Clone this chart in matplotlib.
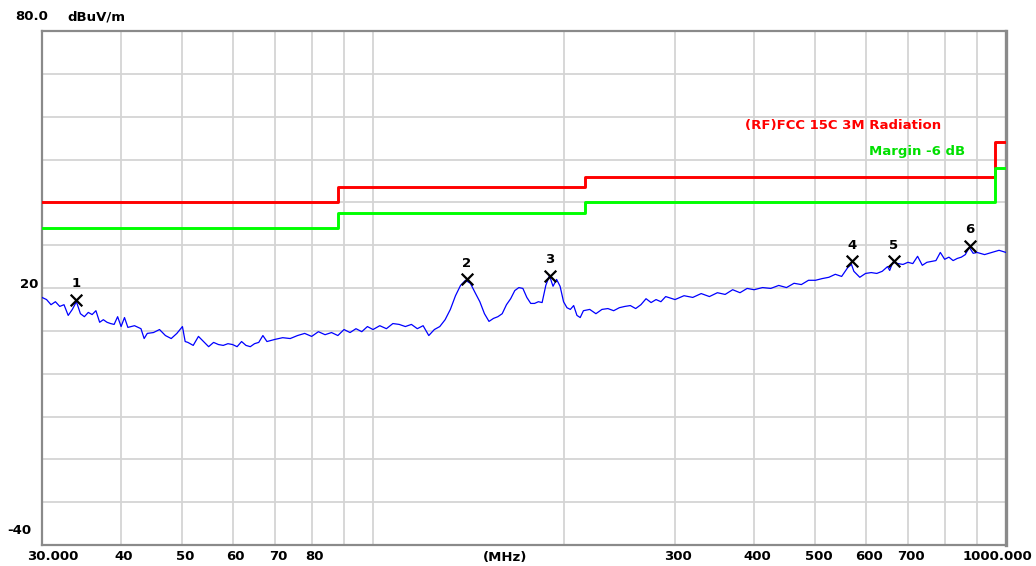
import matplotlib
matplotlib.use("Agg")
import matplotlib.pyplot as plt
from matplotlib.transforms import blended_transform_factory

# ---------------- data ----------------
freq_mhz = [30, 30.5, 31, 31.5, 32, 32.5, 33, 33.5, 34, 34.5, 35, 35.5, 36, 36.5, 37, 37.5,
            38, 38.5, 39, 39.5, 40, 40.5, 41, 42, 43, 43.5, 44, 45, 46, 47, 48, 49, 50, 50.5,
            51, 52, 53, 54, 55, 56, 57, 58, 59, 60, 61, 62, 63, 64, 65, 66, 67, 68, 70, 72,
            74, 76, 78, 80, 82, 84, 86, 88, 90, 92, 94, 96, 98, 100, 102.5, 105, 107.5, 110,
            112.5, 115, 117.5, 120, 122.5, 125, 127.5, 130, 132.5, 135, 137.5, 140, 142.5,
            145, 147.5, 150, 152.5, 155, 157.5, 160, 162.5, 165, 167.5, 170, 172.5, 175,
            177.5, 180, 182.5, 185, 187.5, 190, 192.5, 195, 197.5, 200, 202.5, 205, 207.5,
            210, 212.5, 215, 220, 225, 230, 235, 240, 245, 250, 255, 260, 265, 270, 275, 280,
            285, 290, 300, 310, 320, 330, 340, 350, 360, 370, 380, 390, 400, 412.5, 425,
            437.5, 450, 462.5, 475, 487.5, 500, 512.5, 525, 537.5, 550, 562.5, 570, 575,
            587.5, 600, 612.5, 625, 637.5, 650, 655, 662.5, 675, 687.5, 700, 712.5, 725,
            737.5, 750, 762.5, 775, 787.5, 800, 812.5, 825, 837.5, 850, 862.5, 875, 887.5,
            900, 925, 950, 975, 1000]
level_dbuv = [17.8, 17.3, 16.1, 16.8, 15.7, 16.1, 13.6, 15.0, 16.8, 14.0, 13.3, 14.3, 13.8, 14.7,
              12.0, 12.6, 12.0, 11.7, 11.5, 13.3, 11.0, 13.1, 10.8, 11.2, 10.5, 8.2, 9.4, 9.6,
              10.3, 8.9, 8.2, 9.4, 11.0, 7.5, 7.3, 6.6, 8.7, 7.5, 6.3, 7.3, 6.8, 6.6, 7.0, 6.8,
              6.3, 7.5, 6.6, 6.3, 7.0, 7.3, 8.9, 7.5, 8.0, 8.4, 8.2, 8.9, 9.4, 8.7, 9.8, 9.1,
              9.6, 8.9, 10.3, 9.6, 10.5, 9.8, 11.0, 10.3, 11.2, 10.5, 11.7, 11.5, 11.0, 11.5,
              10.5, 11.2, 8.9, 10.3, 11.0, 12.6, 15.0, 18.2, 20.6, 21.8, 21.1, 18.9, 16.8,
              14.0, 12.2, 12.9, 13.3, 14.0, 16.1, 17.5, 19.4, 20.1, 19.9, 17.8, 16.4, 16.4,
              16.8, 16.6, 20.6, 22.9, 20.4, 22.0, 20.4, 16.8, 15.4, 15.0, 15.9, 13.6, 13.1,
              14.7, 15.0, 14.0, 15.0, 15.2, 14.7, 15.4, 15.7, 15.9, 15.2, 16.1, 17.5, 16.6,
              17.3, 16.8, 18.0, 17.3, 18.2, 17.8, 18.7, 18.0, 18.9, 18.5, 19.6, 18.9, 19.9,
              19.6, 20.1, 19.9, 20.6, 20.1, 21.1, 20.8, 21.8, 21.8, 22.2, 22.5, 23.2, 22.7,
              24.8, 25.5, 23.9, 22.5, 23.4, 23.6, 23.4, 23.9, 25.0, 24.1, 26.0, 25.7, 25.5,
              26.0, 25.7, 27.4, 25.3, 26.0, 26.2, 26.4, 28.3, 26.7, 27.2, 26.4, 26.9, 27.2,
              27.8, 29.5, 28.1, 28.3, 27.8, 28.3, 28.8, 28.3]

limit_freq = [30, 88, 216, 960, 1000]
limit_level = [40, 43.5, 46, 54, 54]
margin_db = -6

marker_ids = ["1", "2", "3", "4", "5", "6"]
marker_freq = [34.0, 140.8, 190.4, 571, 665, 877]
marker_level = [17.3, 22.0, 22.9, 26.2, 26.2, 29.9]

x_tick_vals = [30, 40, 50, 60, 70, 80, 300, 400, 500, 600, 700, 1000]
x_tick_labels = ["30.000", "40", "50", "60", "70", "80", "300", "400", "500", "600", "700", "1000.000"]
x_grid_vals = [40, 50, 60, 70, 80, 90, 100, 200, 300, 400, 500, 600, 700, 800, 900]
y_min, y_max, y_step = -40, 80, 10

# ---------------- figure ----------------
W, H = 1036, 566
FS = 9.5
fig = plt.figure(figsize=(W / 100, H / 100), dpi=100)
fig.patch.set_facecolor("white")
ax = fig.add_axes([42 / W, 21 / H, 964 / W, 514 / H])
ax.set_xscale("log")
ax.set_xlim(30, 1000)
ax.set_ylim(y_min, y_max)

for xv in x_grid_vals:
    ax.axvline(xv, color="#d4d4d4", lw=1.3, zorder=1)
for yv in range(y_min + y_step, y_max, y_step):
    ax.axhline(yv, color="#d4d4d4", lw=1.3, zorder=1)

ax.set_xticks([])
ax.set_yticks([])
ax.minorticks_off()
ax.tick_params(which="both", length=0, labelbottom=False, labelleft=False)
for s in ax.spines.values():
    s.set_color("#8a8a8a")
    s.set_linewidth(1.6)
ax.spines["right"].set_linewidth(2.4)

# limit lines
ax.plot(limit_freq, limit_level, drawstyle="steps-post", color="#ff0000", lw=2.1, zorder=3)
ax.plot(limit_freq, [v + margin_db for v in limit_level], drawstyle="steps-post",
        color="#00ff00", lw=2.1, zorder=3)

# trace
ax.plot(freq_mhz, level_dbuv, color="#0000ff", lw=0.9, zorder=4)

# markers
ax.scatter(marker_freq, marker_level, marker="x", s=70, color="black", linewidths=1.6, zorder=5)
for mid, mf, ml in zip(marker_ids, marker_freq, marker_level):
    ax.annotate(mid, (mf, ml), xytext=(0, 16), textcoords="offset pixels",
                ha="center", va="center", fontsize=FS, fontweight="bold", color="black", zorder=6)

# legend texts
fig.text(745 / W, 1 - 125 / H, "(RF)FCC 15C 3M Radiation", color="#ff0000", fontsize=FS,
         fontweight="bold", ha="left", va="center")
fig.text(869 / W, 1 - 151 / H, "Margin -6 dB", color="#00e000", fontsize=FS,
         fontweight="bold", ha="left", va="center")

# axis texts
fig.text(15 / W, 1 - 17 / H, "80.0", fontsize=FS, fontweight="bold", ha="left", va="center")
fig.text(67 / W, 1 - 17 / H, "dBuV/m", fontsize=FS, fontweight="bold", ha="left", va="center")
fig.text(38 / W, 1 - 284 / H, "20", fontsize=FS, fontweight="bold", ha="right", va="center")
fig.text(31 / W, 1 - 530 / H, "-40", fontsize=FS, fontweight="bold", ha="right", va="center")

trans = blended_transform_factory(ax.transData, fig.transFigure)
yl = 1 - 557 / H
for xv, lab in zip(x_tick_vals, x_tick_labels):
    dx = 3
    if lab == "30.000":
        dx = 11
    elif lab == "1000.000":
        dx = -9
    ax.annotate(lab, (xv, yl), xycoords=trans, xytext=(dx, 0), textcoords="offset pixels",
                ha="center", va="center", fontsize=FS, fontweight="bold", annotation_clip=False)
fig.text(505 / W, yl, "(MHz)", fontsize=FS, fontweight="bold", ha="center", va="center")

fig.savefig("out.png", dpi=100, facecolor="white")
